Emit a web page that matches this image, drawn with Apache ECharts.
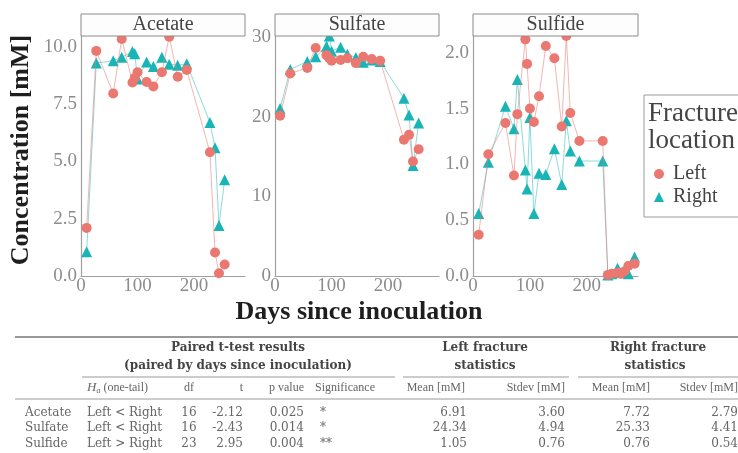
<!DOCTYPE html>
<html>
<head>
<meta charset="utf-8">
<script src="https://cdn.jsdelivr.net/npm/echarts@6/dist/echarts.min.js"></script>
<style>
  html, body { margin: 0; padding: 0; background: #fff; }
  #main { width: 738px; height: 453px; }
</style>
</head>
<body>
<div id="main"></div>
<script>
// ---- data ----
var acetateDays = [10, 27, 57, 72, 91, 95, 100, 116, 128, 143, 156, 171, 187, 228, 237, 244, 254];
var acetateLeft = [2.1, 9.83, 7.97, 10.35, 8.45, 8.65, 8.9, 8.47, 8.28, 8.9, 10.45, 8.7, 9.0, 5.4, 1.03, 0.12, 0.5];
var acetateRight = [1.06, 9.3, 9.4, 9.55, 9.8, 9.7, 8.6, 9.35, 9.15, 9.55, 9.25, 9.2, 9.27, 6.7, 5.6, 2.2, 4.2];

var sulfateDays = [9, 27, 57, 72, 91, 96, 100, 116, 128, 143, 156, 171, 186, 228, 237, 244, 254];
var sulfateLeft = [20.1, 25.4, 26.1, 28.6, 27.7, 27.3, 27.0, 27.1, 27.3, 26.7, 27.5, 27.2, 27.0, 17.1, 17.7, 14.35, 15.9];
var sulfateRight = [21.0, 25.9, 26.9, 27.5, 28.8, 30.1, 28.2, 28.7, 27.8, 27.4, 26.8, 27.1, 26.9, 22.3, 20.2, 13.85, 19.2];

var sulfideDays = [10, 27, 57, 72, 78, 92, 95, 100, 107, 116, 128, 143, 156, 164, 171, 187, 228, 237, 244, 254, 260, 266, 273, 284];
var sulfideLeft = [0.37, 1.09, 1.37, 0.9, 1.45, 2.12, 1.9, 1.5, 1.38, 1.61, 2.06, 1.95, 1.34, 2.15, 1.46, 1.21, 1.21, 0.01, 0.02, 0.03, 0.02, 0.04, 0.09, 0.11];
var sulfideRight = [0.56, 1.02, 1.52, 1.32, 1.76, 0.95, 0.78, 1.42, 0.56, 0.92, 0.91, 1.14, 0.82, 1.39, 1.12, 1.03, 1.03, 0.01, 0.02, 0.07, 0.03, 0.04, 0.02, 0.17];

var xTicks = [0, 100, 200];

// table
var tableAnalytes = ["Acetate", "Sulfate", "Sulfide"];
var hypothesis = ["Left < Right", "Left < Right", "Left > Right"];
var dfVals = ["16", "16", "23"];
var tVals = ["-2.12", "-2.43", "2.95"];
var pVals = ["0.025", "0.014", "0.004"];
var signif = ["*", "*", "**"];
var leftMean = ["6.91", "24.34", "1.05"];
var leftStdev = ["3.60", "4.94", "0.76"];
var rightMean = ["7.72", "25.33", "0.76"];
var rightStdev = ["2.79", "4.41", "0.54"];

var SERIF = '"Liberation Serif", "DejaVu Serif", serif';
var WIDE = '"DejaVu Serif", "Liberation Serif", serif';
var RED = "#ea7870";
var TEAL = "#19b5b6";

var panels = [
  { title: "Acetate", days: acetateDays, left: acetateLeft, right: acetateRight, yMax: 10.48, step: 2.5, dec: 1, x: 81, w: 164 },
  { title: "Sulfate", days: sulfateDays, left: sulfateLeft, right: sulfateRight, yMax: 30.1, step: 10, dec: 0, x: 275, w: 164 },
  { title: "Sulfide", days: sulfideDays, left: sulfideLeft, right: sulfideRight, yMax: 2.15, step: 0.5, dec: 1, x: 473, w: 165 }
];

var myChart = echarts.init(document.getElementById("main"), null, { renderer: "canvas" });

function pairs(days, vals) {
  return days.map(function (d, i) { return [d, vals[i]]; });
}

var grids = [], xAxes = [], yAxes = [], series = [], graphics = [];

panels.forEach(function (p, i) {
  grids.push({ left: p.x, top: 36, width: p.w, height: 240 });
  xAxes.push({
    type: "value", gridIndex: i, min: 0, max: 290, interval: 100,
    axisLine: { show: true, lineStyle: { color: "#a0a0a0", width: 1.2 } },
    axisTick: { show: false },
    splitLine: { show: false },
    axisLabel: {
      color: "#8c8c8c", fontFamily: SERIF, fontSize: 19, margin: 1,
      formatter: function (v) { return xTicks.indexOf(v) >= 0 ? String(v) : ""; }
    }
  });
  yAxes.push({
    type: "value", gridIndex: i, min: 0, max: p.yMax, interval: p.step,
    axisLine: { show: true, lineStyle: { color: "#a0a0a0", width: 1.2 } },
    axisTick: { show: false },
    splitLine: { show: false },
    axisLabel: {
      color: "#8c8c8c", fontFamily: SERIF, fontSize: 19, margin: 4,
      formatter: function (v) {
        var k = v / p.step;
        if (Math.abs(k - Math.round(k)) > 1e-6) return "";
        return v.toFixed(p.dec);
      }
    }
  });
  series.push({
    name: "Left", type: "line", xAxisIndex: i, yAxisIndex: i,
    data: pairs(p.days, p.left),
    symbol: "circle", symbolSize: 10, clip: false,
    itemStyle: { color: RED },
    lineStyle: { color: RED, width: 1, opacity: 0.55 },
    emphasis: { disabled: true }, z: 3
  });
  series.push({
    name: "Right", type: "line", xAxisIndex: i, yAxisIndex: i,
    data: pairs(p.days, p.right),
    symbol: "triangle", symbolSize: 11, clip: false,
    itemStyle: { color: TEAL },
    lineStyle: { color: TEAL, width: 1, opacity: 0.5 },
    emphasis: { disabled: true }, z: 2
  });
  // facet strip
  graphics.push({
    type: "rect", z: 50,
    shape: { x: p.x, y: 14, width: p.w, height: 22 },
    style: { fill: "#fdfdfd", stroke: "#8a8a8a", lineWidth: 1 }
  });
  graphics.push({
    type: "text", z: 51,
    style: { text: p.title, x: p.x + p.w / 2, y: 25, align: "center", verticalAlign: "middle",
             font: "20px " + SERIF, fill: "#444" }
  });
});

// axis titles
graphics.push({
  type: "text", z: 51, x: 21, y: 150, rotation: Math.PI / 2,
  style: { text: "Concentration [mM]", x: 0, y: 0, align: "center", verticalAlign: "middle",
           font: "bold 26px " + SERIF, fill: "#1e1e1e" }
});
graphics.push({
  type: "text", z: 51,
  style: { text: "Days since inoculation", x: 359, y: 312, align: "center", verticalAlign: "middle",
           font: "bold 26px " + SERIF, fill: "#1e1e1e" }
});

// legend frame + title
graphics.push({
  type: "rect", z: 40,
  shape: { x: 644, y: 95, width: 100, height: 122 },
  style: { fill: "#fff", stroke: "#9a9a9a", lineWidth: 1 }
});
graphics.push({
  type: "text", z: 51,
  style: { text: "Fracture\nlocation", x: 648, y: 100, align: "left", verticalAlign: "top",
           font: "27px " + SERIF, lineHeight: 27, fill: "#444" }
});

// ---- table ----
function txt(s, x, y, align, font, color) {
  graphics.push({
    type: "text", z: 51,
    style: { text: s, x: x, y: y, align: align, verticalAlign: "middle", font: font, fill: color || "#666" }
  });
}
function rule(x1, x2, y, w) {
  graphics.push({
    type: "line", z: 51,
    shape: { x1: x1, y1: y, x2: x2, y2: y },
    style: { stroke: "#999", lineWidth: w }
  });
}
var bodyFont = "12px " + WIDE;
var headFont = "12px " + SERIF;
var boldFont = "bold 12px " + WIDE;

rule(15, 738, 337, 2);
txt("Paired t-test results", 238, 348, "center", boldFont, "#444");
txt("(paired by days since inoculation)", 238, 366, "center", boldFont, "#444");
txt("Left fracture", 485, 348, "center", boldFont, "#444");
txt("statistics", 485, 366, "center", boldFont, "#444");
txt("Right fracture", 658, 348, "center", boldFont, "#444");
txt("statistics", 655, 366, "center", boldFont, "#444");
rule(82, 395, 377, 1);
rule(403, 569, 377, 1);
rule(578, 738, 377, 1);

graphics.push({
  type: "text", z: 51,
  style: {
    text: "{i|H}{s|a} (one-tail)", x: 87, y: 388, align: "left", verticalAlign: "middle",
    font: headFont, fill: "#666",
    rich: {
      i: { font: "italic 13px " + SERIF, fill: "#666" },
      s: { font: "italic 8px " + SERIF, fill: "#666", padding: [6, 0, 0, 0] }
    }
  }
});
txt("df", 189, 388, "center", headFont);
txt("t", 243, 388, "right", headFont);
txt("p value", 304, 388, "right", headFont);
txt("Significance", 315, 388, "left", headFont);
txt("Mean [mM]", 465, 388, "right", headFont);
txt("Stdev [mM]", 565, 388, "right", headFont);
txt("Mean [mM]", 650, 388, "right", headFont);
txt("Stdev [mM]", 738, 388, "right", headFont);
rule(15, 738, 399, 1.2);

var rowY = [413, 428, 444];
tableAnalytes.forEach(function (name, r) {
  var y = rowY[r];
  txt(name, 25, y, "left", bodyFont);
  txt(hypothesis[r], 87, y, "left", bodyFont);
  txt(dfVals[r], 189, y, "center", bodyFont);
  txt(tVals[r], 243, y, "right", bodyFont);
  txt(pVals[r], 304, y, "right", bodyFont);
  txt(signif[r], 320, y, "left", bodyFont);
  txt(leftMean[r], 467, y, "right", bodyFont);
  txt(leftStdev[r], 565, y, "right", bodyFont);
  txt(rightMean[r], 650, y, "right", bodyFont);
  txt(rightStdev[r], 738, y, "right", bodyFont);
});

var option = {
  backgroundColor: "#fff",
  animation: false,
  grid: grids,
  xAxis: xAxes,
  yAxis: yAxes,
  legend: {
    orient: "vertical", left: 649, top: 159, z: 60,
    itemWidth: 10, itemHeight: 10, itemGap: 3,
    selectedMode: false,
    data: [{ name: "Left", icon: "circle" }, { name: "Right", icon: "triangle" }],
    textStyle: { fontFamily: SERIF, fontSize: 20, color: "#444", padding: [0, 0, 0, 4] }
  },
  series: series,
  graphic: graphics
};

myChart.setOption(option);
</script>
</body>
</html>
